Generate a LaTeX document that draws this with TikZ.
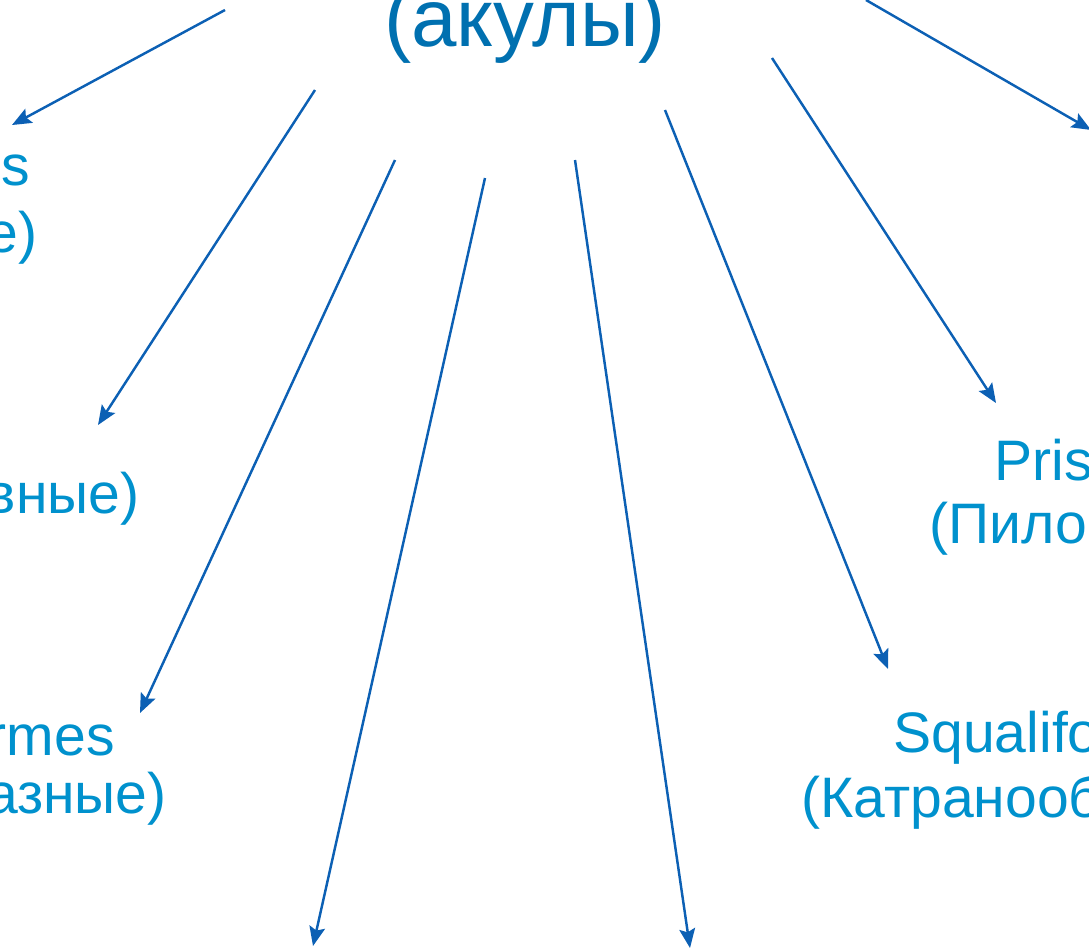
\documentclass[tikz,border=0pt]{standalone}
\usepackage{fontspec}
\setmainfont{Liberation Sans}
\usepackage{xcolor}
\usetikzlibrary{arrows.meta,positioning}

\definecolor{arrowblue}{RGB}{12,96,180}
\definecolor{titleblue}{RGB}{0,112,176}
\definecolor{labelblue}{RGB}{0,145,205}

\tikzset{
  link/.style={-{Stealth[length=11pt,width=9pt,inset=2pt]},line width=1.4pt,arrowblue},
  order/.style={inner sep=0pt,text=labelblue,font=\fontsize{32.5}{37}\selectfont},
  title/.style={inner sep=0pt,text=titleblue,font=\fontsize{46.5}{52}\selectfont}
}

\begin{document}
\begin{tikzpicture}[x=0.02cm,y=-0.02cm]
    \useasboundingbox (0,0) rectangle (1089,947);
    \clip (0,0) rectangle (1089,947);

    % top
    \node[title,anchor=base] (sharks) at (525,46) {(акулы)};

    % left column
    \node[order,anchor=base east] (hexa1) at (30,185) {s};
    \node[order,anchor=base east] (hexa2) at (38,252) {е)};
    \node[order,anchor=base east] (hete) at (140,513) {вные)};
    \node[order,anchor=base east] (carc1) at (115,755) {rmes};
    \node[order,anchor=base east] (carc2) at (167,813) {азные)};

    % right column
    \node[order,anchor=base west] (pris1) at (994,480) {Pris};
    \node[order,anchor=base west] (pris2) at (929,543) {(Пило};
    \node[order,anchor=base west] (squa1) at (893,752) {Squalifo};
    \node[order,anchor=base west] (squa2) at (801,817) {(Катранооб};

    % arrow ends
    \coordinate (a1) at (225,10);  \coordinate (b1) at (12,125);
    \coordinate (a2) at (315,90);  \coordinate (b2) at (98,425);
    \coordinate (a3) at (395,160); \coordinate (b3) at (140,713);
    \coordinate (a4) at (485,178); \coordinate (b4) at (313,946);
    \coordinate (a5) at (575,160); \coordinate (b5) at (690,948);
    \coordinate (a6) at (665,110); \coordinate (b6) at (888,669);
    \coordinate (a7) at (772,58);  \coordinate (b7) at (996,403);
    \coordinate (a8) at (866,0);   \coordinate (b8) at (1091,130);

    \draw[link] (a1) -- (b1);
    \draw[link] (a2) -- (b2);
    \draw[link] (a3) -- (b3);
    \draw[link] (a4) -- (b4);
    \draw[link] (a5) -- (b5);
    \draw[link] (a6) -- (b6);
    \draw[link] (a7) -- (b7);
    \draw[link] (a8) -- (b8);
\end{tikzpicture}
\end{document}
